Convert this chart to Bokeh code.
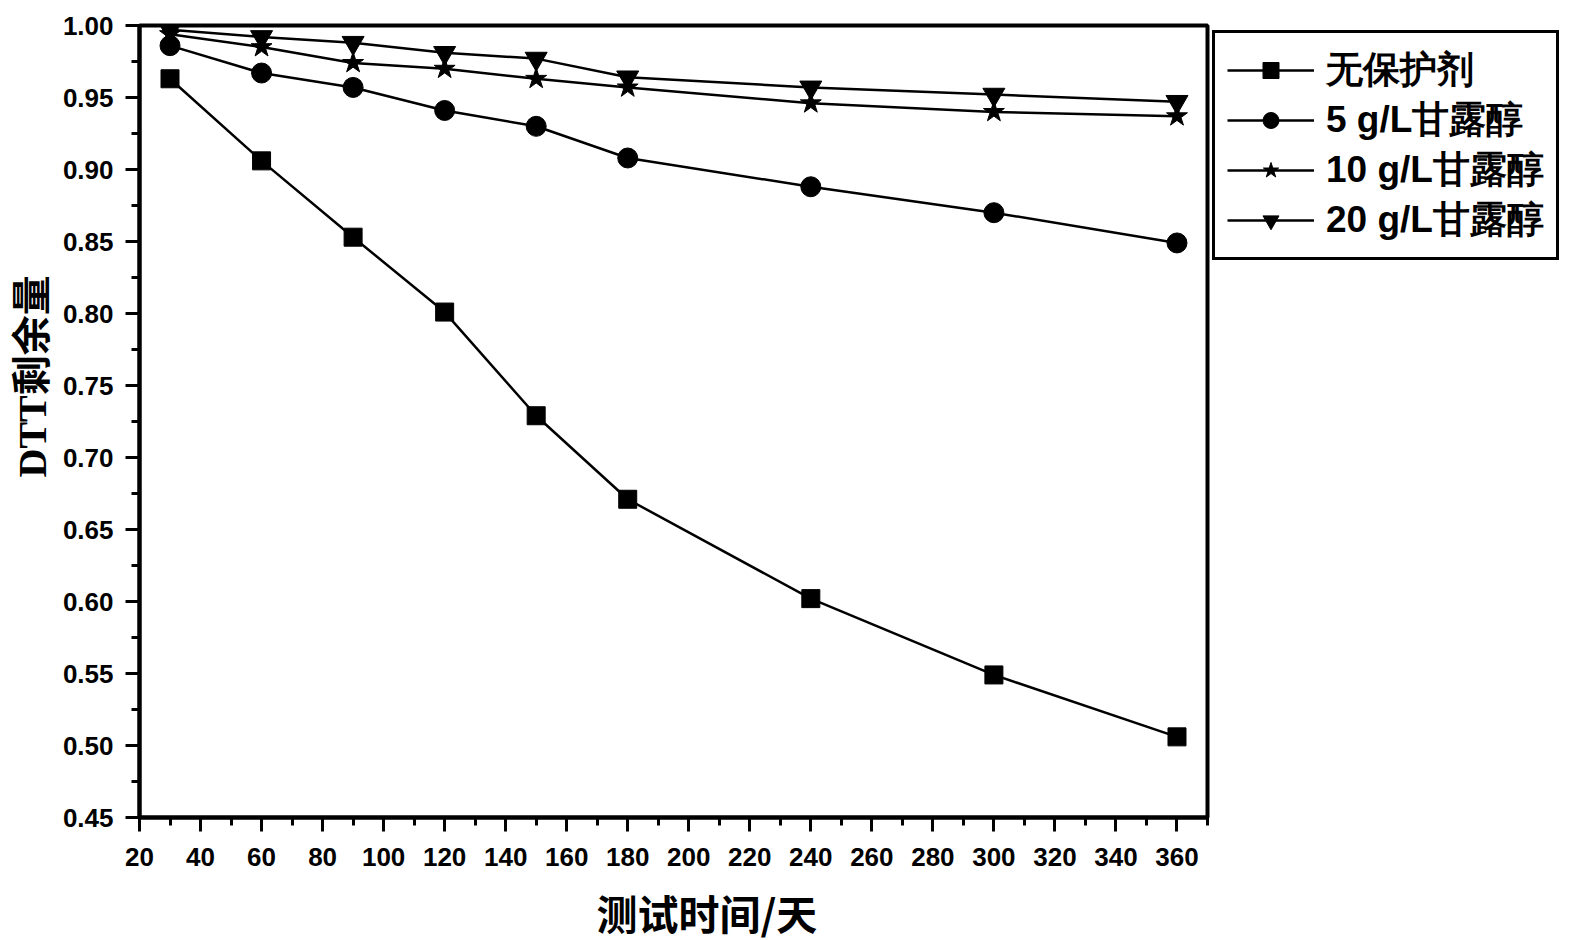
from bokeh.plotting import figure
from bokeh.models import Range1d, FixedTicker, Legend, LegendItem, Title, NumeralTickFormatter
from bokeh.embed import file_html
from bokeh.resources import INLINE

# ---- data ----
days = [30, 60, 90, 120, 150, 180, 240, 300, 360]
no_protect = [0.963, 0.906, 0.853, 0.801, 0.729, 0.671, 0.602, 0.549, 0.506]
mannitol_5 = [0.986, 0.967, 0.957, 0.941, 0.930, 0.908, 0.888, 0.870, 0.849]
mannitol_10 = [0.994, 0.985, 0.974, 0.970, 0.963, 0.957, 0.946, 0.940, 0.937]
mannitol_20 = [0.997, 0.992, 0.988, 0.981, 0.977, 0.964, 0.957, 0.952, 0.947]
series_names = ["无保护剂", "5 g/L甘露醇", "10 g/L甘露醇", "20 g/L甘露醇"]
x_ticks = [20, 40, 60, 80, 100, 120, 140, 160, 180, 200, 220, 240, 260, 280, 300, 320, 340, 360]
y_ticks = [0.45, 0.50, 0.55, 0.60, 0.65, 0.70, 0.75, 0.80, 0.85, 0.90, 0.95, 1.00]
x_title = "测试时间/天"
y_title = "DTT剩余量"

X0, X1 = 20, 370
Y0, Y1 = 0.45, 1.00
FW, FH = 1068, 792
LEFT, TOP, BOTTOM, RIGHT = 139, 25, 123, 363

p = figure(frame_width=FW, frame_height=FH,
           x_range=Range1d(X0, X1), y_range=Range1d(Y0, Y1),
           output_backend="svg", toolbar_location=None,
           min_border_left=LEFT, min_border_top=TOP,
           min_border_bottom=BOTTOM, min_border_right=RIGHT,
           background_fill_color="white", border_fill_color="white")
p.xgrid.visible = False
p.ygrid.visible = False
p.outline_line_color = "black"
p.outline_line_width = 4

x_minor = [t + 10 for t in x_ticks]
y_minor = [round(t + 0.025, 3) for t in y_ticks[:-1]]
p.xaxis.ticker = FixedTicker(ticks=x_ticks, minor_ticks=x_minor)
p.yaxis.ticker = FixedTicker(ticks=y_ticks, minor_ticks=y_minor)
p.yaxis.formatter = NumeralTickFormatter(format="0.00")

for ax in (p.xaxis[0], p.yaxis[0]):
    ax.axis_line_width = 4
    ax.axis_line_color = "black"
    ax.major_tick_line_width = 3
    ax.minor_tick_line_width = 3
    ax.major_tick_in = 0
    ax.major_tick_out = 14
    ax.minor_tick_in = 0
    ax.minor_tick_out = 8
    ax.major_label_text_font = "Liberation Sans"
    ax.major_label_text_font_style = "bold"
    ax.major_label_text_font_size = "26px"
    ax.major_label_text_color = "black"
p.xaxis.major_label_standoff = 16
p.yaxis.major_label_standoff = 12

lw = 2.5
r1l = p.line(days, no_protect, line_color="black", line_width=lw)
r1s = p.scatter(days, no_protect, marker="square", size=18, color="black")
r2l = p.line(days, mannitol_5, line_color="black", line_width=lw)
r2s = p.scatter(days, mannitol_5, marker="circle", size=20, color="black")
r3l = p.line(days, mannitol_10, line_color="black", line_width=lw)
r3s = p.scatter(days, mannitol_10, marker="star", size=22, color="black")
r4l = p.line(days, mannitol_20, line_color="black", line_width=lw)
r4s = p.scatter(days, mannitol_20, marker="inverted_triangle", size=22, color="black")

legend = Legend(items=[
    LegendItem(label=series_names[0], renderers=[r1l, r1s]),
    LegendItem(label=series_names[1], renderers=[r2l, r2s]),
    LegendItem(label=series_names[2], renderers=[r3l, r3s]),
    LegendItem(label=series_names[3], renderers=[r4l, r4s]),
], location="top_left")
legend.border_line_color = "black"
legend.border_line_alpha = 1.0
legend.border_line_width = 3
legend.background_fill_color = "white"
legend.label_text_font = "Liberation Sans"
legend.label_text_font_style = "bold"
legend.label_text_font_size = "37px"
legend.label_text_color = "black"
legend.glyph_width = 87
legend.glyph_height = 40
legend.label_height = 40
legend.label_standoff = 12
legend.spacing = -8
legend.padding = 12
legend.margin = 5
p.add_layout(legend, "right")

# axis titles as offset titles
xt = Title(text=x_title, align="left", offset=457, standoff=22,
           text_font="Noto Sans CJK SC", text_font_style="bold",
           text_font_size="41px", text_color="black")
yt = Title(text=y_title, align="left", offset=340, standoff=10,
           text_font="Liberation Serif, Noto Sans CJK SC", text_font_style="bold",
           text_font_size="40px", text_color="black")
p.add_layout(xt, "below")
p.add_layout(yt, "left")

open("out.html", "w").write(file_html(p, INLINE))
